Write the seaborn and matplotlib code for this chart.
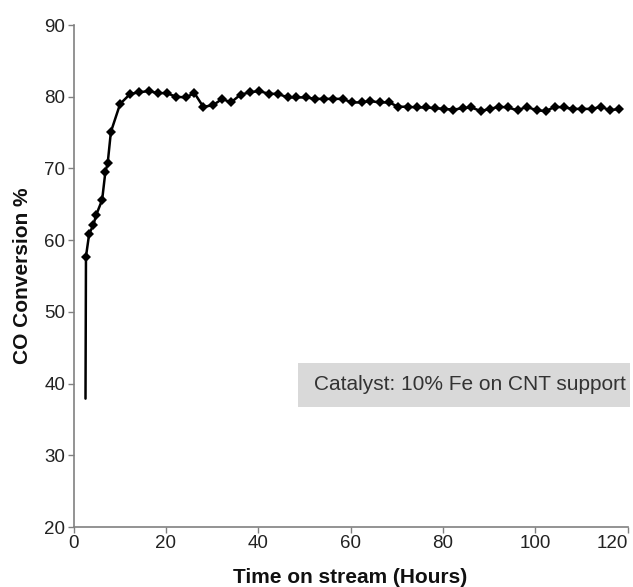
import matplotlib
matplotlib.use("Agg")
import matplotlib.pyplot as plt
import matplotlib.patches as mpatches
import seaborn as sns
import pandas as pd

# values
hours = [2.6, 2.7, 3.4, 4.3, 4.9, 6.2, 6.9, 7.4, 8.1, 10.1,
         12.3, 14.2, 16.3, 18.2, 20.2, 22.2, 24.3, 26.2, 28.1, 30.2,
         32.2, 34.1, 36.2, 38.2, 40.2, 42.3, 44.3, 46.4, 48.3, 50.4,
         52.3, 54.3, 56.2, 58.3, 60.3, 62.4, 64.2, 66.3, 68.4, 70.3,
         72.4, 74.4, 76.4, 78.2, 80.3, 82.3, 84.3, 86.2, 88.2, 90.2,
         92.2, 94.1, 96.2, 98.2, 100.3, 102.3, 104.3, 106.3, 108.2, 110.2,
         112.3, 114.3, 116.2, 118.2]
conversion = [37.9, 57.7, 60.9, 62.1, 63.5, 65.6, 69.5, 70.7, 75.1, 79.0,
              80.4, 80.6, 80.8, 80.5, 80.5, 80.0, 79.9, 80.5, 78.6, 78.8,
              79.7, 79.2, 80.3, 80.6, 80.8, 80.4, 80.4, 79.9, 79.9, 79.9,
              79.7, 79.7, 79.7, 79.7, 79.2, 79.2, 79.4, 79.2, 79.2, 78.6,
              78.6, 78.5, 78.5, 78.4, 78.3, 78.2, 78.4, 78.5, 78.0, 78.3,
              78.6, 78.5, 78.1, 78.6, 78.1, 78.0, 78.6, 78.5, 78.3, 78.3,
              78.3, 78.6, 78.1, 78.3]
x_ticks = [0, 20, 40, 60, 80, 100, 120]
y_ticks = [20, 30, 40, 50, 60, 70, 80, 90]
note = "Catalyst: 10% Fe on CNT support"

df = pd.DataFrame({"hours": hours, "conv": conversion})

sns.set_style("ticks")
plt.rcParams['font.family'] = ['Liberation Sans', 'DejaVu Sans']

fig = plt.figure(figsize=(6.33, 5.87), dpi=100)
ax = fig.add_axes([73.5 / 633, 60 / 587, 554 / 633, 502 / 587])

sns.lineplot(data=df, x="hours", y="conv", ax=ax, color="black", linewidth=1.8,
             marker="D", markersize=5, markeredgewidth=0,
             markevery=list(range(1, len(hours))))

ax.set_xlim(0, 120)
ax.set_ylim(20, 90)
ax.set_xticks(x_ticks)
ax.set_yticks(y_ticks)
ax.tick_params(labelsize=13.5, colors="#808080", labelcolor="#222222", length=4, width=1, pad=2)
# last x label sits against the right edge, as in the reference
ax.get_xticklabels()[-1].set_horizontalalignment("right")
for side in ["top", "right"]:
    ax.spines[side].set_visible(False)
for side in ["left", "bottom"]:
    ax.spines[side].set_color("#808080")
    ax.spines[side].set_linewidth(1.2)

ax.set_xlabel("Time on stream (Hours)", fontsize=15, fontweight="bold", color="#111111", labelpad=11)
ax.set_ylabel("CO Conversion %", fontsize=15, fontweight="bold", color="#111111", labelpad=9)

# grey note box
fig.patches.append(mpatches.Rectangle((298 / 633, 1 - 407 / 587), 332 / 633, 44 / 587,
                                      transform=fig.transFigure, facecolor="#d9d9d9",
                                      edgecolor="none", zorder=3))
fig.text(314 / 633, 1 - 385 / 587, note, fontsize=15, color="#333333",
         va="center", ha="left", zorder=4)

fig.savefig("out.png", dpi=100)
